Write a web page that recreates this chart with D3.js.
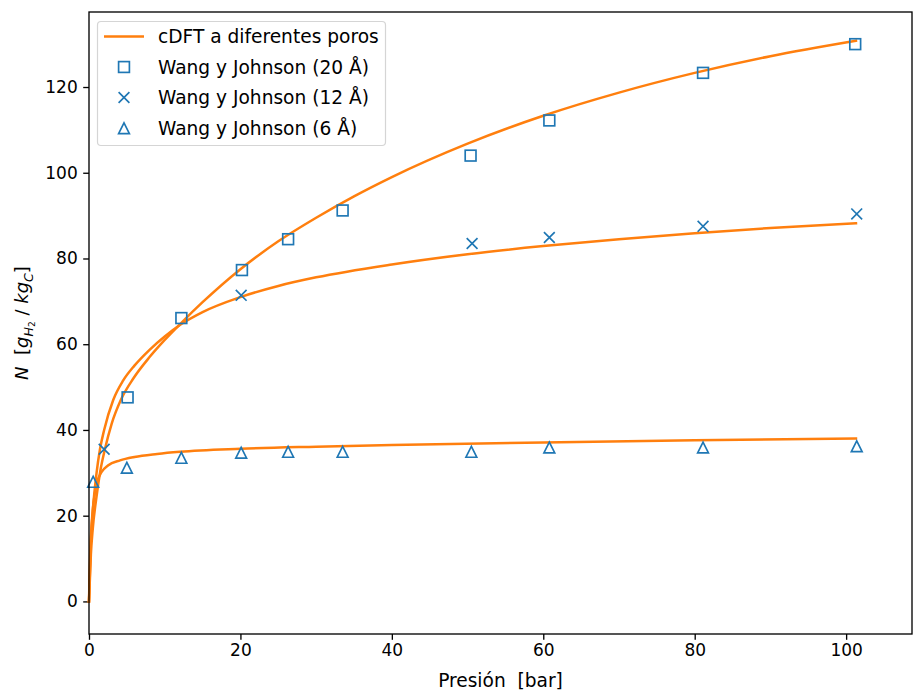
<!DOCTYPE html>
<html>
<head>
<meta charset="utf-8">
<script src="https://cdn.jsdelivr.net/npm/d3@7/dist/d3.min.js"></script>
<style>
  html, body { margin: 0; padding: 0; background: #fff; }
  svg { display: block; font-family: "DejaVu Sans", sans-serif; }
</style>
</head>
<body>
<svg id="chart" width="914" height="695"></svg>
<script>
// cDFT isotherms for three pore widths: [pressure (bar), uptake]
const cdft20 = [[0,0],[0.25,11],[0.5,17],[1,24.5],[1.5,30.5],[2.1,35.5],[3,41.5],[4.2,47],[5.85,52],[8,57],[10,61],[12.2,65],[15,69.8],[20,77.5],[25,84],[30,89.5],[35,94.5],[40,99],[50,106.8],[60,113.3],[70,118.7],[80,123.3],[90,127.2],[101.3,130.8]];
const cdft12 = [[0,0],[0.25,14],[0.5,21],[1,30],[1.45,35.5],[2,40],[3.2,47],[4.5,51.5],[6,55],[8,58.7],[10,61.8],[12.2,64.7],[15,67.5],[20,71],[25,73.6],[30,75.6],[40,78.6],[50,81],[60,82.9],[70,84.5],[80,85.9],[90,87.1],[101.3,88.2]];
const cdft6 = [[0,0],[0.1,8],[0.25,15],[0.5,21.5],[0.8,25.5],[1.1,28],[1.67,30.2],[2.5,31.7],[4.1,32.9],[6,33.7],[9,34.4],[12,34.9],[20,35.6],[30,36.1],[40,36.5],[60,37.1],[80,37.6],[101.3,38]];

// Wang y Johnson reference data
const wj20P = [5.1, 12.2, 20.2, 26.3, 33.5, 50.4, 60.8, 81.1, 101.2];
const wj20N = [47.6, 66.1, 77.3, 84.5, 91.2, 104.0, 112.2, 123.3, 130.0];
const wj12P = [2.0, 20.1, 50.6, 60.8, 81.1, 101.4];
const wj12N = [35.5, 71.4, 83.5, 84.9, 87.5, 90.4];
const wj6P = [0.55, 5.0, 12.2, 20.1, 26.3, 33.5, 50.5, 60.8, 81.1, 101.4];
const wj6N = [27.9, 31.2, 33.5, 34.7, 34.9, 34.9, 34.9, 35.9, 35.9, 36.2];

const xTicks = [0, 20, 40, 60, 80, 100];
const yTicks = [0, 20, 40, 60, 80, 100, 120];

const blue = "#1f77b4", orange = "#ff7f0e";
const fsTick = 17, fsText = 18.6;

const svg = d3.select("#chart");
const L = 89, R = 912, T = 12, B = 634;

const x = d3.scaleLinear().domain([0, 108.7]).range([L, R]);
const y = d3.scaleLinear().domain([-7.6, 137.5]).range([B, T]);

// axes
const xAxis = svg.append("g").attr("transform", `translate(0,${B})`)
  .call(d3.axisBottom(x).tickValues(xTicks).tickSize(5.8).tickPadding(4.5).tickFormat(d3.format("d")));
const yAxis = svg.append("g").attr("transform", `translate(${L},0)`)
  .call(d3.axisLeft(y).tickValues(yTicks).tickSize(5.8).tickPadding(5.5).tickFormat(d3.format("d")));
[xAxis, yAxis].forEach(g => {
  g.select(".domain").remove();
  g.selectAll(".tick line").attr("stroke", "#000").attr("stroke-width", 1.33);
  g.selectAll(".tick text").attr("fill", "#000").attr("font-size", fsTick).attr("font-family", "DejaVu Sans");
});

// curves
const line = d3.line().x(d => x(d[0])).y(d => y(d[1])).curve(d3.curveMonotoneX);
const plot = svg.append("g");
[cdft20, cdft12, cdft6].forEach(c => {
  plot.append("path").attr("d", line(c)).attr("fill", "none")
    .attr("stroke", orange).attr("stroke-width", 2.5).attr("stroke-linecap", "square");
});

// markers
const ms = 10.8, mw = 1.67;
function square(g, cx, cy) {
  g.append("rect").attr("x", cx - ms / 2).attr("y", cy - ms / 2).attr("width", ms).attr("height", ms)
    .attr("fill", "none").attr("stroke", blue).attr("stroke-width", mw);
}
function cross(g, cx, cy) {
  const h = ms / 2;
  g.append("path").attr("d", `M${cx - h},${cy - h}L${cx + h},${cy + h}M${cx - h},${cy + h}L${cx + h},${cy - h}`)
    .attr("fill", "none").attr("stroke", blue).attr("stroke-width", mw);
}
function tri(g, cx, cy) {
  const h = ms / 2;
  g.append("path").attr("d", `M${cx},${cy - h}L${cx - h},${cy + h}L${cx + h},${cy + h}Z`)
    .attr("fill", "none").attr("stroke", blue).attr("stroke-width", mw).attr("stroke-linejoin", "miter");
}
wj20P.forEach((p, i) => square(plot, x(p), y(wj20N[i])));
wj12P.forEach((p, i) => cross(plot, x(p), y(wj12N[i])));
wj6P.forEach((p, i) => tri(plot, x(p), y(wj6N[i])));

// frame
svg.append("rect").attr("x", L).attr("y", T).attr("width", R - L).attr("height", B - T)
  .attr("fill", "none").attr("stroke", "#000").attr("stroke-width", 1.33);

// legend
const lg = svg.append("g");
lg.append("rect").attr("x", 97.5).attr("y", 21.5).attr("width", 288).attr("height", 124).attr("rx", 3.5)
  .attr("fill", "#fff").attr("fill-opacity", 0.8).attr("stroke", "#d5d5d5").attr("stroke-width", 1.2);
const labels = ["cDFT a diferentes poros", "Wang y Johnson (20 Å)", "Wang y Johnson (12 Å)", "Wang y Johnson (6 Å)"];
const rows = [36.5, 67, 97.5, 128.3];
lg.append("line").attr("x1", 104).attr("x2", 144).attr("y1", rows[0]).attr("y2", rows[0])
  .attr("stroke", orange).attr("stroke-width", 2.5);
square(lg, 124, rows[1]);
cross(lg, 124, rows[2]);
tri(lg, 124, rows[3]);
labels.forEach((t, i) => {
  lg.append("text").attr("x", 158).attr("y", rows[i]).attr("dy", "0.36em")
    .attr("font-size", fsText).attr("fill", "#000").text(t);
});

// axis titles
svg.append("text").attr("x", (L + R) / 2).attr("y", 687).attr("text-anchor", "middle")
  .attr("font-size", fsText).attr("fill", "#000").text("Presión\u00a0\u00a0[bar]");

const fsY = 18;
const yl = svg.append("text").attr("transform", `translate(28,${(T + B) / 2}) rotate(-90)`)
  .attr("text-anchor", "middle").attr("font-size", fsY).attr("fill", "#000");
yl.append("tspan").attr("font-style", "italic").text("N");
yl.append("tspan").text("\u00a0\u00a0[");
yl.append("tspan").attr("font-style", "italic").text("g");
yl.append("tspan").attr("font-style", "italic").attr("font-size", fsY * 0.7).attr("dy", 4.5).text("H");
yl.append("tspan").attr("font-size", fsY * 0.5).attr("dy", 2.5).text("2");
yl.append("tspan").attr("dy", -7).text("\u00a0/\u00a0");
yl.append("tspan").attr("font-style", "italic").text("kg");
yl.append("tspan").attr("font-style", "italic").attr("font-size", fsY * 0.7).attr("dy", 4.5).text("C");
yl.append("tspan").attr("dy", -4.5).text("]");
</script>
</body>
</html>
